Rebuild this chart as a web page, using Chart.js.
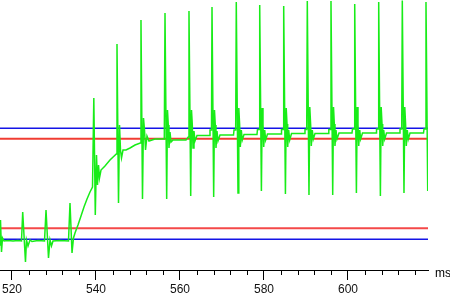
<!DOCTYPE html>
<html>
<head>
<meta charset="utf-8">
<script src="https://cdn.jsdelivr.net/npm/chart.js@4/dist/chart.umd.min.js"></script>
<style>
html,body{margin:0;padding:0;background:#fff;}
#wrap{width:450px;height:295px;}
</style>
</head>
<body>
<div id="wrap"><canvas id="c" width="450" height="295"></canvas></div>
<script>
// ---- data (time in ms, membrane voltage in mV) ----
const timeMs = [
517.14,517.26,517.50,517.74,518.10,519.05,520.24,521.43,522.26,522.55,523.21,523.45,523.81,524.29,524.76,526.19,527.74,528.10,528.69,529.05,529.40,529.76,531.43,533.45,533.81,534.29,534.64,
535.00,535.71,536.43,537.14,537.86,538.57,539.17,
539.48,539.83,540.12,540.36,540.60,540.83,541.19,542.14,543.33,544.83,
545.00,545.36,545.60,545.83,546.07,546.43,547.14,548.10,549.29,550.55,
550.71,551.07,551.31,551.55,551.79,552.14,552.62,554.05,556.26,
556.43,556.83,557.02,557.21,557.38,557.62,557.86,558.33,561.43,561.98,
562.14,562.55,562.74,562.93,563.10,563.33,563.57,564.05,567.02,567.14,567.50,
567.62,568.02,568.21,568.40,568.57,568.81,569.05,569.52,572.74,572.86,573.26,
573.40,573.81,574.00,574.19,574.36,574.60,574.83,575.24,578.33,578.45,578.83,
578.98,579.38,579.57,579.76,579.93,580.17,580.40,580.83,584.05,584.17,584.55,
584.69,585.10,585.29,585.48,585.64,585.88,586.12,586.55,589.64,589.76,590.17,
590.31,590.71,590.90,591.10,591.26,591.50,591.74,592.14,595.31,595.43,595.81,
595.95,596.36,596.55,596.74,596.90,597.14,597.38,597.86,600.95,601.07,601.45,
601.60,602.00,602.19,602.38,602.55,602.79,603.02,603.45,606.67,606.79,607.17,
607.31,607.71,607.90,608.10,608.26,608.50,608.74,609.17,612.26,612.38,612.79,
612.93,613.33,613.52,613.71,613.88,614.12,614.36,614.76,617.98,618.10,618.43,
618.57,618.98
];
const voltageMv = [
-67.5,-55,-71,-64,-65.5,-65.25,-65.5,-65.25,-65.5,-51,-76,-65,-68,-65,-65.75,-65.25,-65.5,-50,-74,-65,-68,-65.5,-65.25,-65.5,-46.5,-71.5,-64,
-61.5,-57.5,-53,-48.5,-44.5,-41,-38.5,
6,-52.5,-22.5,-37.5,-27.5,-34,-30,-28,-25,-22,
33,-46.5,-7.5,-20,-24,-20,-20,-19,-17.5,-16.5,
45,-44.5,-4,-10,-20,-13,-15.5,-14.5,-14.5,
48.5,-44.5,0,-7.5,-19,-11,-16,-15,-15,-13.5,
49.5,-43,0,-7.5,-19,-10.5,-15.5,-12.75,-12.75,-10,-10,
51.5,-43.5,0,-7.5,-19,-10.5,-15.5,-12.5,-12.5,-10,-10,
54,-41.5,1,-7,-18.5,-10,-15,-12.25,-12.25,-9.75,-9.75,
52.5,-40.5,1,-7,-18.5,-10,-15,-12,-12,-9.75,-9.75,
52,-42,1,-7,-18.5,-10,-15,-11.75,-11.75,-9.75,-9.75,
54.5,-42.5,1.5,-7,-18,-10,-14.5,-11.75,-11.75,-9.75,-9.75,
54.5,-42.5,1.5,-7,-18,-10,-14.5,-11.5,-11.5,-9.5,-9.5,
53,-41.5,1.5,-7,-18,-10,-14.5,-11.5,-11.5,-9.5,-9.5,
54,-43,1.5,-7,-18,-10,-14.5,-11.5,-11.5,-9.5,-9.5,
54.75,-41.5,1.5,-7,-18,-10,-14.5,-11.5,-11.5,-9.5,-9.5,
54,-40.5
];
// reference levels (mV)
const upperBlue = -9.1;
const upperRed = -14.4;
const lowerRed = -59.1;
const lowerBlue = -64.6;
const levelStart = 517.14;
const levelEnd = 619.05;
// axis ticks (ms)
const majorTicks = [520, 540, 560, 580, 600];
const minorTicks = [524, 528, 532, 536, 544, 548, 552, 556, 564, 568, 572, 576, 584, 588, 592, 596, 604, 608, 612, 616];
const xUnit = 'ms';

const trace = timeMs.map((t, i) => ({x: t, y: voltageMv[i]}));
const level = v => [{x: levelStart, y: v}, {x: levelEnd, y: v}];

const extras = {
  id: 'extras',
  afterDraw(chart) {
    const sx = chart.scales.x;
    const ctx = chart.ctx;
    const y0 = sx.top;
    ctx.save();
    ctx.strokeStyle = '#000';
    ctx.lineWidth = 1;
    ctx.beginPath();
    minorTicks.forEach(v => {
      const px = Math.round(sx.getPixelForValue(v)) + 0.5;
      ctx.moveTo(px, y0);
      ctx.lineTo(px, y0 + 5);
    });
    ctx.stroke();
    ctx.fillStyle = '#000';
    ctx.font = '12px "Liberation Sans", Arial, sans-serif';
    ctx.textAlign = 'left';
    ctx.textBaseline = 'alphabetic';
    ctx.fillText(xUnit, 435, 277);
    ctx.restore();
  }
};

new Chart(document.getElementById('c'), {
  type: 'line',
  data: {
    datasets: [
      {data: trace, borderColor: '#18ec18', borderWidth: 1.5, pointRadius: 0, tension: 0, order: 0},
      {data: level(upperBlue), borderColor: '#1414e6', borderWidth: 1.6, pointRadius: 0, order: 1},
      {data: level(upperRed), borderColor: '#f03c32', borderWidth: 2, pointRadius: 0, order: 1},
      {data: level(lowerRed), borderColor: '#f44848', borderWidth: 2, pointRadius: 0, order: 1},
      {data: level(lowerBlue), borderColor: '#1414e6', borderWidth: 1.6, pointRadius: 0, order: 1}
    ]
  },
  options: {
    responsive: false,
    animation: false,
    events: [],
    layout: {padding: {left: 0, right: 22, top: 0, bottom: 0}},
    plugins: {legend: {display: false}, tooltip: {enabled: false}},
    scales: {
      x: {
        type: 'linear',
        min: 517.143,
        max: 619.048,
        afterBuildTicks: s => { s.ticks = majorTicks.map(v => ({value: v})); },
        afterFit: s => { s.height = 25; s.paddingLeft = 0; s.paddingRight = 0; },
        border: {display: true, color: '#000', width: 1},
        grid: {drawOnChartArea: false, drawTicks: true, tickLength: 10, tickColor: '#000', tickWidth: 1},
        ticks: {
          includeBounds: false, autoSkip: false, maxRotation: 0, padding: 2,
          color: '#111',
          font: {family: '"Liberation Sans", Arial, sans-serif', size: 12},
          callback: v => String(v)
        }
      },
      y: {type: 'linear', display: false, min: -80, max: 55}
    }
  },
  plugins: [extras]
});
</script>
</body>
</html>
